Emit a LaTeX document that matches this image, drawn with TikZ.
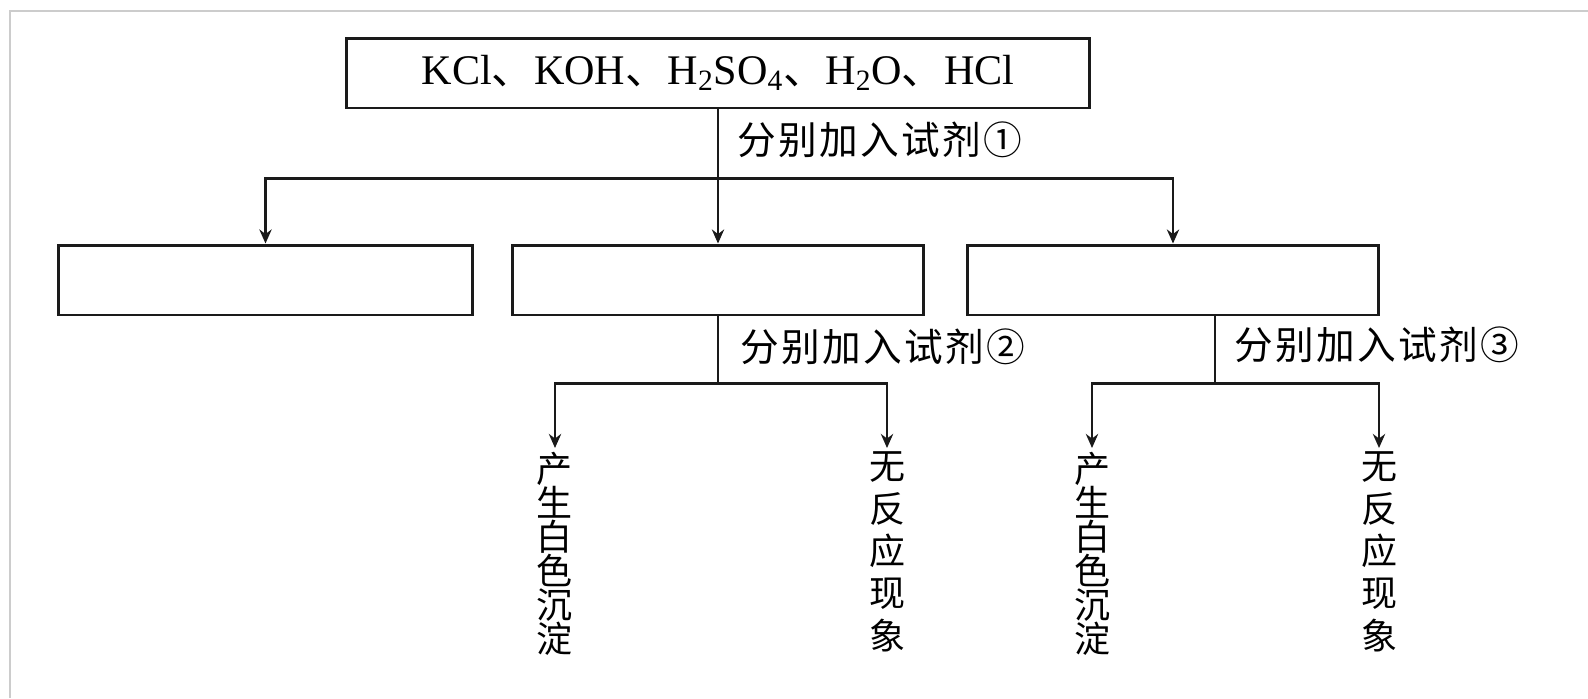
\documentclass[tikz,border=0pt]{standalone}
\usepackage{fontspec}
\setmainfont{Liberation Serif}
\newfontfamily\cjk{Noto Sans CJK SC}
\newfontfamily\cjkwide[LetterSpace=6]{Noto Sans CJK SC}
\usetikzlibrary{arrows.meta,positioning,calc}
\definecolor{ink}{HTML}{1A1A1A}
\definecolor{scanframe}{HTML}{CCCCCC}

\begin{document}
\begin{tikzpicture}[x=0.02cm, y=-0.02cm,
  box/.style={rectangle, draw=ink, line width=1.7pt, minimum width=#1, minimum height=1.4cm, inner sep=0pt},
  arr/.style={-{Stealth[length=8pt,width=7pt]}, ink, line width=1.3pt},
  lnk/.style={ink, line width=1.3pt},
  lbl/.style={anchor=west, inner sep=0pt, font=\cjkwide\fontsize{22}{26}\selectfont},
  vtxt/.style={align=center, anchor=north, inner sep=2pt, font=\cjk\fontsize{20.5}{#1}\selectfont}
]
  \useasboundingbox (0,0) rectangle (1588,698);
  \draw[scanframe, line width=1pt] (10,698) -- (10,11) -- (1588,11);

  % mixture and the three groups
  \node[box=14.86cm, font=\fontsize{24}{28}\selectfont] (mix) at (718,73)
    {KCl{\cjk 、}KOH{\cjk 、}H\textsubscript{2}SO\textsubscript{4}{\cjk 、}H\textsubscript{2}O{\cjk 、}HCl};
  \node[box=8.3cm] (sol1) at (265.5,280) {};
  \node[box=8.24cm] (sol2) at (718,280) {};
  \node[box=8.24cm] (sol3) at (1173,280) {};

  \coordinate (fork1) at ($(mix.south)+(0,69)$);
  \draw[lnk] (mix.south) -- (fork1);
  \draw[arr] (fork1) -| (sol1.north);
  \draw[arr] (fork1) -- (sol2.north);
  \draw[arr] (fork1) -| (sol3.north);
  \node[lbl] (add1) at (737,140) {分别加入试剂①};

  % reagent 2
  \node[vtxt=19.4pt] (ppt2) at (555,448) {产\\生\\白\\色\\沉\\淀};
  \node[vtxt=24.1pt] (none2) at (887,448) {无\\反\\应\\现\\象};
  \coordinate (fork2) at ($(sol2.south)+(0,67)$);
  \draw[lnk] (sol2.south) -- (fork2);
  \draw[arr] (fork2) -| (ppt2.north);
  \draw[arr] (fork2) -| (none2.north);
  \node[lbl] (add2) at (740,347) {分别加入试剂②};

  % reagent 3
  \node[vtxt=19.4pt] (ppt3) at (1092,448) {产\\生\\白\\色\\沉\\淀};
  \node[vtxt=24.1pt] (none3) at (1379,448) {无\\反\\应\\现\\象};
  \coordinate (drop3) at ($(sol3.south)+(42,0)$);
  \coordinate (fork3) at ($(drop3)+(0,67)$);
  \draw[lnk] (drop3) -- (fork3);
  \draw[arr] (fork3) -| (ppt3.north);
  \draw[arr] (fork3) -| (none3.north);
  \node[lbl] (add3) at (1234,345) {分别加入试剂③};
\end{tikzpicture}
\end{document}
